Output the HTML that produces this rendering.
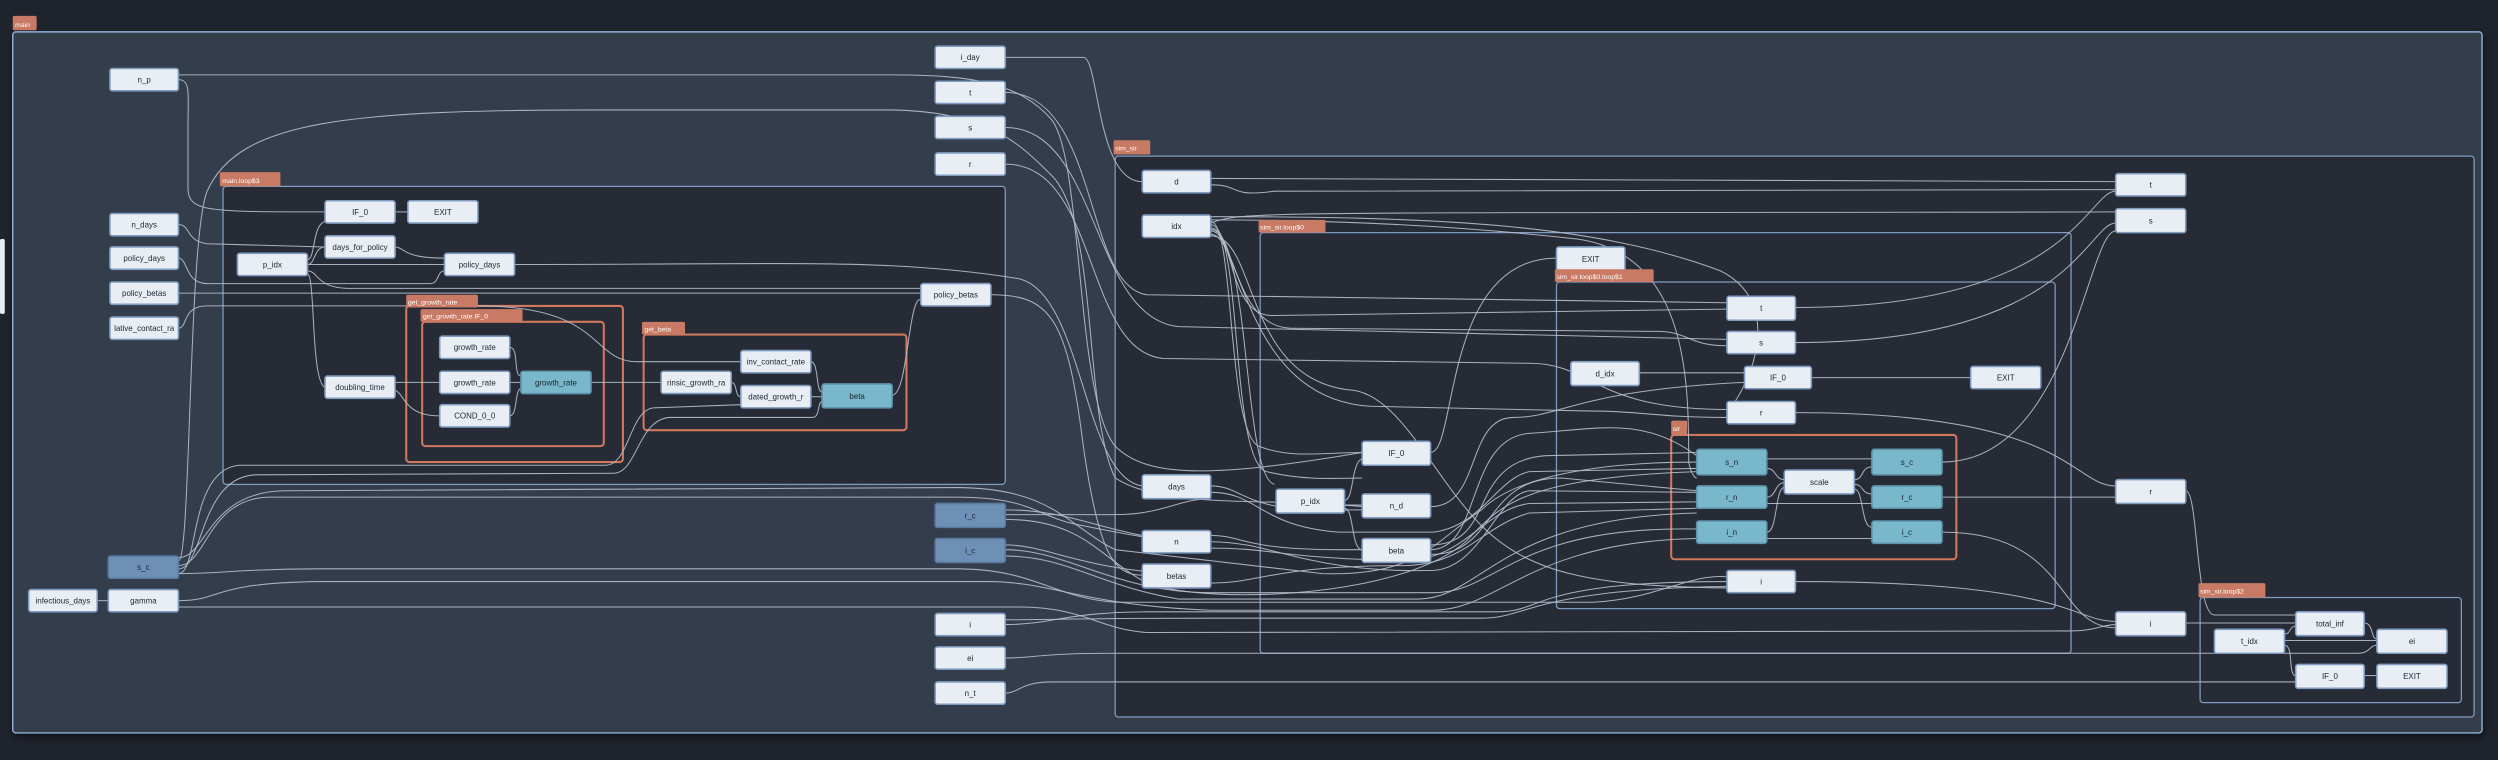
<!DOCTYPE html>
<html><head><meta charset="utf-8"><style>
html,body{margin:0;padding:0;background:#1f232c;}
svg{display:block}
.n rect{fill:#e9edf4;stroke:#7f9cc0;stroke-width:1}
.b rect{fill:#79b7ca;stroke:#5f93ab;stroke-width:1}
.c rect{fill:#6e8fb6;stroke:#5a7aa0;stroke-width:1}
text{font-family:"Liberation Sans",sans-serif;font-size:5px;fill:#1e2430;text-anchor:middle}
.lb text{fill:#fff;font-size:4.3px;text-anchor:start}
.lb rect{fill:#c97a64}
.e path{fill:none;stroke:#b8bfcb;stroke-width:0.65;opacity:0.9}
.sh{filter:drop-shadow(1px 2px 2px rgba(0,0,0,0.5))}
</style></head><body>
<svg width="2498" height="760" viewBox="0 0 1568 477" preserveAspectRatio="none" xmlns="http://www.w3.org/2000/svg">
<rect x="0" y="0" width="1568" height="477" fill="#1f232c"/>
<rect x="0" y="150" width="3" height="47" rx="1" fill="#e8ecf3"/>
<g class="sh">
<rect x="8" y="20" width="1550" height="440" rx="2" fill="#343d4c" stroke="#8fb0d6" stroke-width="0.9"/>
<rect x="140" y="117" width="491" height="187" rx="2" fill="#262b36" stroke="#7f9cc0" stroke-width="0.8"/>
<rect x="255" y="192" width="136" height="98" rx="2" fill="#262b36" stroke="#d0785e" stroke-width="1.3"/>
<rect x="265" y="202" width="114" height="78" rx="2" fill="#262b36" stroke="#d0785e" stroke-width="1.3"/>
<rect x="404" y="210" width="165" height="60" rx="2" fill="#262b36" stroke="#d0785e" stroke-width="1.3"/>
<rect x="700" y="98" width="853" height="352" rx="2" fill="#262b36" stroke="#7f9cc0" stroke-width="0.8"/>
<rect x="791" y="146" width="509" height="264" rx="2" fill="#262b36" stroke="#7f9cc0" stroke-width="0.8"/>
<rect x="977" y="177" width="313" height="205" rx="2" fill="#262b36" stroke="#7f9cc0" stroke-width="0.8"/>
<rect x="1049" y="273" width="179" height="78" rx="2" fill="#262b36" stroke="#d0785e" stroke-width="1.3"/>
<rect x="1381" y="375" width="164" height="66" rx="2" fill="#262b36" stroke="#7f9cc0" stroke-width="0.8"/>
</g>
<g class="e">
<path d="M112 50 C120 50 118 60 118 80 L118 118 C118 133 130 133 204 133"/>
<path d="M112 47 L560 47 C610 47 640 52 660 75 C680 100 675 250 700 280 C720 300 760 300 855 284"/>
<path d="M112 352 C120 352 118 150 130 120 C150 75 220 69 380 69 L560 69 C620 70 640 90 660 110 C690 140 680 260 700 300 C730 320 800 312 855 318"/>
<path d="M112 141 C120 141 116 151 130 153 L204 155"/>
<path d="M112 162 C118 162 116 178 130 178 L270 178 C276 178 274 170 279 170"/>
<path d="M112 184 L578 184"/>
<path d="M112 206 C118 206 114 192 130 192 L300 192 C380 192 370 227 400 227 L465 227"/>
<path d="M193 163 C198 163 196 141 204 139"/>
<path d="M193 166 C198 166 197 155 204 155"/>
<path d="M193 166 L279 166"/>
<path d="M193 170 C200 170 198 181 220 181 L578 181"/>
<path d="M193 172 C198 172 195 240 204 243"/>
<path d="M248 155 C254 155 252 162 279 162"/>
<path d="M248 133 L257 133"/>
<path d="M323 166 C500 166 560 162 640 175 C680 185 680 300 717 305"/>
<path d="M622 185 C660 185 670 200 680 280 C690 350 700 361 717 361"/>
<path d="M560 248 C570 248 570 186 578 188"/>
<path d="M247 240 L276 240"/>
<path d="M247 245 C254 245 252 261 276 261"/>
<path d="M320 218 C326 218 322 236 327 236"/>
<path d="M320 240 L327 240"/>
<path d="M320 261 C325 261 323 244 327 244"/>
<path d="M371 240 L415 240"/>
<path d="M459 240 C463 240 461 249 465 249"/>
<path d="M509 227 C514 227 512 246 516 246"/>
<path d="M509 249 L516 249"/>
<path d="M112 360 C125 360 118 295 150 292 L380 292 C395 292 395 258 410 256 L465 254"/>
<path d="M112 357 C128 357 125 300 160 298 L385 297 C400 297 400 264 420 262 L510 262 C515 262 513 252 516 252"/>
<path d="M61 377 L68 377"/>
<path d="M112 381 L640 381 C680 381 690 395 720 397 L1300 396 C1315 396 1320 392 1328 392"/>
<path d="M112 360 C140 360 150 357 200 357 L600 357 C650 357 660 375 700 378 L1000 378 C1040 376 1060 360 1084 362"/>
<path d="M112 355 C130 355 130 312 170 312 L600 312 C650 312 650 325 680 330 C720 338 740 341 760 341"/>
<path d="M112 350 C130 350 130 308 180 308 L600 306 C660 306 670 330 700 345 L830 360 C890 362 900 340 930 320 C950 300 1000 290 1065 290"/>
<path d="M112 377 C140 377 130 366 200 365 L620 365 C660 365 680 380 760 383 L900 383 C940 383 960 340 1065 338"/>
<path d="M631 36 L680 36 C690 36 688 114 717 114"/>
<path d="M631 58 C690 58 680 180 720 185 L1084 190"/>
<path d="M631 80 C690 80 685 200 740 205 L1084 213"/>
<path d="M631 103 C690 103 680 220 730 225 L960 228 C1000 228 1000 257 1084 257"/>
<path d="M631 323 L700 323 C730 323 740 313 760 313"/>
<path d="M631 320 C680 320 700 340 760 340"/>
<path d="M631 342 C660 342 680 360 760 361"/>
<path d="M631 345 C670 345 700 372 760 372 L900 372 C940 372 950 330 1065 332"/>
<path d="M631 326 C680 326 690 350 720 366 C760 380 880 375 920 340 C940 320 950 300 1065 296"/>
<path d="M631 349 C670 349 690 368 740 376 L890 376 C930 376 940 325 1065 322"/>
<path d="M631 392 C660 392 670 384 720 384 L940 384 C970 384 960 365 1084 365"/>
<path d="M631 389 C660 389 680 388 760 388 L930 388 C960 388 960 370 1084 368"/>
<path d="M631 413 C650 413 650 410 700 410 L1480 410 C1488 410 1487 405 1492 405"/>
<path d="M631 435 C640 435 640 428 660 428 L1441 428"/>
<path d="M760 112 L1328 114"/>
<path d="M760 116 C780 116 770 124 800 120 L1328 119"/>
<path d="M760 140 C780 132 800 134 1328 133"/>
<path d="M760 143 C775 143 770 200 800 198 L1084 194"/>
<path d="M760 145 C775 145 775 205 810 206 L1040 208 C1060 208 1060 217 1084 217"/>
<path d="M760 147 C780 147 780 250 860 255 L1000 258 C1030 258 1040 262 1084 262"/>
<path d="M760 148 C790 148 780 240 850 245 C880 250 900 300 930 330 C960 360 1000 368 1084 369"/>
<path d="M760 139 C775 139 770 270 790 280 C810 288 830 284 855 284"/>
<path d="M760 141 C780 141 772 290 795 296 C820 302 840 300 855 300"/>
<path d="M760 144 C785 144 780 300 800 304"/>
<path d="M760 138 C820 138 900 140 990 150 C1060 160 1060 240 1060 290 C1062 300 1065 300 1065 300"/>
<path d="M760 136 C900 136 1000 140 1080 170 C1120 190 1100 240 1084 259"/>
<path d="M760 305 C780 305 780 320 830 320 L855 320"/>
<path d="M760 309 C790 309 790 330 840 334 L900 334 C930 330 940 300 960 296 L1065 294"/>
<path d="M760 336 C780 336 780 345 840 345 L855 345"/>
<path d="M760 344 C800 344 800 350 880 352 C920 352 930 320 960 316 L1065 315"/>
<path d="M760 366 C790 366 800 355 880 355 C920 355 930 330 960 322 L1065 319"/>
<path d="M760 340 C800 340 820 360 900 358 C930 356 940 310 960 308 L1065 309"/>
<path d="M844 314 C850 314 848 290 855 288"/>
<path d="M844 317 L855 317"/>
<path d="M844 319 C850 319 848 345 855 345"/>
<path d="M898 284 C915 284 905 162 977 162"/>
<path d="M898 318 C930 318 920 262 950 262 C980 262 990 245 1095 240"/>
<path d="M898 345 C930 345 920 275 960 272 C1000 270 1030 260 1065 286"/>
<path d="M898 348 C940 348 930 300 980 300 L1065 308"/>
<path d="M898 342 C940 342 920 290 970 286 L1065 284"/>
<path d="M1029 234 L1095 234"/>
<path d="M1137 237 L1237 237"/>
<path d="M1127 193 C1300 193 1310 120 1328 120"/>
<path d="M1127 215 C1300 215 1310 140 1328 140"/>
<path d="M1127 259 C1300 259 1300 305 1328 305"/>
<path d="M1127 365 C1300 365 1300 390 1328 390"/>
<path d="M1219 290 C1300 290 1310 145 1328 145"/>
<path d="M1219 312 L1328 312"/>
<path d="M1219 334 C1300 334 1290 394 1328 394"/>
<path d="M1109 288 L1175 288"/>
<path d="M1109 294 C1115 294 1114 301 1120 301"/>
<path d="M1109 312 C1115 312 1114 303 1120 303"/>
<path d="M1109 316 L1175 316"/>
<path d="M1109 334 C1116 334 1114 306 1120 306"/>
<path d="M1109 338 L1175 338"/>
<path d="M1164 301 C1170 301 1168 293 1175 293"/>
<path d="M1164 304 C1170 304 1168 310 1175 310"/>
<path d="M1164 307 C1170 307 1168 331 1175 331"/>
<path d="M1372 308 C1380 308 1378 386 1390 386 L1441 386"/>
<path d="M1372 391 L1441 391"/>
<path d="M1484 391 C1490 391 1488 401 1492 401"/>
<path d="M1434 402 L1492 402"/>
<path d="M1434 405 C1440 405 1436 424 1441 424"/>
<path d="M1434 398 C1438 398 1437 393 1441 393"/>
<path d="M1484 424 L1492 424"/>
</g>
<g class="n"><rect x="69" y="43" width="43" height="14" rx="1.5"/><text x="90.5" y="51.8">n_p</text></g>
<g class="n"><rect x="69" y="134" width="43" height="14" rx="1.5"/><text x="90.5" y="142.8">n_days</text></g>
<g class="n"><rect x="69" y="155" width="43" height="14" rx="1.5"/><text x="90.5" y="163.8">policy_days</text></g>
<g class="n"><rect x="69" y="177" width="43" height="14" rx="1.5"/><text x="90.5" y="185.8">policy_betas</text></g>
<g class="n"><rect x="69" y="199" width="43" height="14" rx="1.5"/><text x="90.5" y="207.8">lative_contact_ra</text></g>
<g class="c"><rect x="68" y="349" width="44" height="14" rx="1.5"/><text x="90" y="357.8">s_c</text></g>
<g class="n"><rect x="18" y="370" width="43" height="14" rx="1.5"/><text x="39.5" y="378.8">infectious_days</text></g>
<g class="n"><rect x="68" y="370" width="44" height="14" rx="1.5"/><text x="90" y="378.8">gamma</text></g>
<g class="n"><rect x="587" y="29" width="44" height="14" rx="1.5"/><text x="609" y="37.8">i_day</text></g>
<g class="n"><rect x="587" y="51" width="44" height="14" rx="1.5"/><text x="609" y="59.8">t</text></g>
<g class="n"><rect x="587" y="73" width="44" height="14" rx="1.5"/><text x="609" y="81.8">s</text></g>
<g class="n"><rect x="587" y="96" width="44" height="14" rx="1.5"/><text x="609" y="104.8">r</text></g>
<g class="c"><rect x="587" y="316" width="44" height="15" rx="1.5"/><text x="609" y="325.3">r_c</text></g>
<g class="c"><rect x="587" y="338" width="44" height="15" rx="1.5"/><text x="609" y="347.3">i_c</text></g>
<g class="n"><rect x="587" y="385" width="44" height="14" rx="1.5"/><text x="609" y="393.8">i</text></g>
<g class="n"><rect x="587" y="406" width="44" height="14" rx="1.5"/><text x="609" y="414.8">ei</text></g>
<g class="n"><rect x="587" y="428" width="44" height="14" rx="1.5"/><text x="609" y="436.8">n_t</text></g>
<g class="n"><rect x="204" y="126" width="44" height="14" rx="1.5"/><text x="226" y="134.8">IF_0</text></g>
<g class="n"><rect x="256" y="126" width="44" height="14" rx="1.5"/><text x="278" y="134.8">EXIT</text></g>
<g class="n"><rect x="204" y="148" width="44" height="14" rx="1.5"/><text x="226" y="156.8">days_for_policy</text></g>
<g class="n"><rect x="149" y="159" width="44" height="14" rx="1.5"/><text x="171" y="167.8">p_idx</text></g>
<g class="n"><rect x="279" y="159" width="44" height="14" rx="1.5"/><text x="301" y="167.8">policy_days</text></g>
<g class="n"><rect x="578" y="178" width="44" height="14" rx="1.5"/><text x="600" y="186.8">policy_betas</text></g>
<g class="n"><rect x="204" y="236" width="44" height="14" rx="1.5"/><text x="226" y="244.8">doubling_time</text></g>
<g class="n"><rect x="276" y="211" width="44" height="14" rx="1.5"/><text x="298" y="219.8">growth_rate</text></g>
<g class="n"><rect x="276" y="233" width="44" height="14" rx="1.5"/><text x="298" y="241.8">growth_rate</text></g>
<g class="n"><rect x="276" y="254" width="44" height="14" rx="1.5"/><text x="298" y="262.8">COND_0_0</text></g>
<g class="b"><rect x="327" y="233" width="44" height="14" rx="1.5"/><text x="349" y="241.8">growth_rate</text></g>
<g class="n"><rect x="465" y="220" width="44" height="14" rx="1.5"/><text x="487" y="228.8">inv_contact_rate</text></g>
<g class="n"><rect x="415" y="233" width="44" height="14" rx="1.5"/><text x="437" y="241.8">rinsic_growth_ra</text></g>
<g class="n"><rect x="465" y="242" width="44" height="14" rx="1.5"/><text x="487" y="250.8">dated_growth_r</text></g>
<g class="b"><rect x="516" y="241" width="44" height="15" rx="1.5"/><text x="538" y="250.3">beta</text></g>
<g class="n"><rect x="717" y="107" width="43" height="14" rx="1.5"/><text x="738.5" y="115.8">d</text></g>
<g class="n"><rect x="717" y="135" width="43" height="14" rx="1.5"/><text x="738.5" y="143.8">idx</text></g>
<g class="n"><rect x="717" y="298" width="43" height="15" rx="1.5"/><text x="738.5" y="307.3">days</text></g>
<g class="n"><rect x="717" y="333" width="43" height="14" rx="1.5"/><text x="738.5" y="341.8">n</text></g>
<g class="n"><rect x="717" y="354" width="43" height="15" rx="1.5"/><text x="738.5" y="363.3">betas</text></g>
<g class="n"><rect x="1328" y="109" width="44" height="14" rx="1.5"/><text x="1350" y="117.8">t</text></g>
<g class="n"><rect x="1328" y="131" width="44" height="15" rx="1.5"/><text x="1350" y="140.3">s</text></g>
<g class="n"><rect x="1328" y="301" width="44" height="15" rx="1.5"/><text x="1350" y="310.3">r</text></g>
<g class="n"><rect x="1328" y="384" width="44" height="15" rx="1.5"/><text x="1350" y="393.3">i</text></g>
<g class="n"><rect x="977" y="155" width="43" height="15" rx="1.5"/><text x="998.5" y="164.3">EXIT</text></g>
<g class="n"><rect x="855" y="277" width="43" height="15" rx="1.5"/><text x="876.5" y="286.3">IF_0</text></g>
<g class="n"><rect x="801" y="307" width="43" height="15" rx="1.5"/><text x="822.5" y="316.3">p_idx</text></g>
<g class="n"><rect x="855" y="310" width="43" height="15" rx="1.5"/><text x="876.5" y="319.3">n_d</text></g>
<g class="n"><rect x="855" y="338" width="43" height="15" rx="1.5"/><text x="876.5" y="347.3">beta</text></g>
<g class="n"><rect x="1084" y="186" width="43" height="15" rx="1.5"/><text x="1105.5" y="195.3">t</text></g>
<g class="n"><rect x="1084" y="208" width="43" height="14" rx="1.5"/><text x="1105.5" y="216.8">s</text></g>
<g class="n"><rect x="986" y="227" width="43" height="15" rx="1.5"/><text x="1007.5" y="236.3">d_idx</text></g>
<g class="n"><rect x="1095" y="230" width="42" height="14" rx="1.5"/><text x="1116" y="238.8">IF_0</text></g>
<g class="n"><rect x="1237" y="230" width="44" height="14" rx="1.5"/><text x="1259" y="238.8">EXIT</text></g>
<g class="n"><rect x="1084" y="252" width="43" height="14" rx="1.5"/><text x="1105.5" y="260.8">r</text></g>
<g class="n"><rect x="1084" y="358" width="43" height="14" rx="1.5"/><text x="1105.5" y="366.8">i</text></g>
<g class="b"><rect x="1065" y="282" width="44" height="16" rx="1.5"/><text x="1087" y="291.8">s_n</text></g>
<g class="b"><rect x="1065" y="305" width="44" height="14" rx="1.5"/><text x="1087" y="313.8">r_n</text></g>
<g class="b"><rect x="1065" y="327" width="44" height="14" rx="1.5"/><text x="1087" y="335.8">i_n</text></g>
<g class="n"><rect x="1120" y="295" width="44" height="15" rx="1.5"/><text x="1142" y="304.3">scale</text></g>
<g class="b"><rect x="1175" y="282" width="44" height="16" rx="1.5"/><text x="1197" y="291.8">s_c</text></g>
<g class="b"><rect x="1175" y="305" width="44" height="14" rx="1.5"/><text x="1197" y="313.8">r_c</text></g>
<g class="b"><rect x="1175" y="327" width="44" height="14" rx="1.5"/><text x="1197" y="335.8">i_c</text></g>
<g class="n"><rect x="1441" y="384" width="43" height="15" rx="1.5"/><text x="1462.5" y="393.3">total_inf</text></g>
<g class="n"><rect x="1390" y="395" width="44" height="15" rx="1.5"/><text x="1412" y="404.3">t_idx</text></g>
<g class="n"><rect x="1492" y="395" width="44" height="15" rx="1.5"/><text x="1514" y="404.3">ei</text></g>
<g class="n"><rect x="1441" y="417" width="43" height="15" rx="1.5"/><text x="1462.5" y="426.3">IF_0</text></g>
<g class="n"><rect x="1492" y="417" width="44" height="15" rx="1.5"/><text x="1514" y="426.3">EXIT</text></g>
<g class="lb"><rect x="8" y="10" width="15" height="9" rx="1"/><text x="9.5" y="16.8">main</text></g>
<g class="lb"><rect x="138" y="108" width="38" height="9" rx="1"/><text x="139.5" y="114.8">main.loop$3</text></g>
<g class="lb"><rect x="255" y="185" width="45" height="8" rx="1"/><text x="256" y="191">get_growth_rate</text></g>
<g class="lb"><rect x="264" y="194" width="64" height="8" rx="1"/><text x="265.5" y="200">get_growth_rate.IF_0</text></g>
<g class="lb"><rect x="403" y="202" width="27" height="8" rx="1"/><text x="404.5" y="208">get_beta</text></g>
<g class="lb"><rect x="699" y="88" width="23" height="9" rx="1"/><text x="700" y="94.5">sim_sir</text></g>
<g class="lb"><rect x="790" y="138" width="42" height="8" rx="1"/><text x="791" y="144">sim_sir.loop$0</text></g>
<g class="lb"><rect x="976" y="169" width="62" height="8" rx="1"/><text x="977" y="175">sim_sir.loop$0.loop$1</text></g>
<g class="lb"><rect x="1049" y="264" width="10" height="9" rx="1"/><text x="1050" y="270.5">sir</text></g>
<g class="lb"><rect x="1380" y="366" width="42" height="9" rx="1"/><text x="1381" y="372.5">sim_sir.loop$2</text></g>
</svg>
</body></html>
